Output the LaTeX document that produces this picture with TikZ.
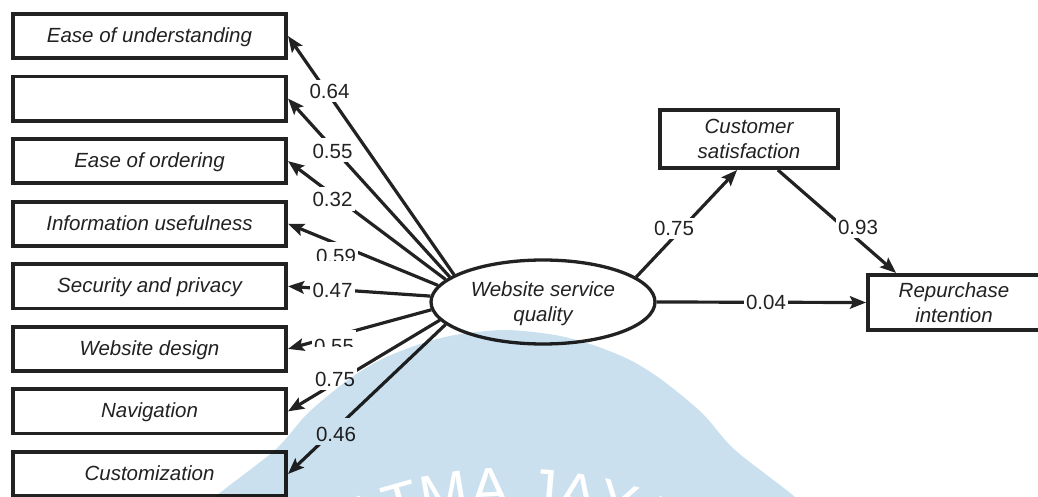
\documentclass[tikz,border=0pt]{standalone}
\usepackage{fontspec}
\setmainfont{Liberation Sans}
\usetikzlibrary{arrows.meta,shapes.geometric,decorations.text}
\definecolor{ink}{HTML}{222222}
\definecolor{wmblue}{HTML}{CBE0EE}
\newcommand\diagfont{\fontsize{20.5}{25}\selectfont}
\newcommand\wmfont{\fontsize{58}{58}\selectfont}

\begin{document}
\begin{tikzpicture}[x=1pt,y=-1pt,
  every node/.style={font=\diagfont, text=ink},
  indicator/.style={draw=ink, line width=3.8pt, fill=white, minimum width=273.2pt,
    minimum height=44.2pt, inner sep=0pt, text height=14.5pt, text depth=1.5pt,
    font=\diagfont\itshape},
  construct/.style={draw=ink, line width=3.8pt, fill=white, inner sep=0pt,
    align=center, font=\diagfont\itshape},
  latent/.style={ellipse, draw=ink, line width=3.3pt, fill=white, minimum width=224pt,
    minimum height=84pt, inner sep=0pt, align=center, text depth=0pt,
    font=\diagfont\itshape},
  link/.style={draw=ink, line width=3.2pt, -{Stealth[length=16pt,width=12.5pt,inset=3pt]}},
  coef/.style={fill=white, inner sep=2.5pt, text height=16.5pt, text depth=1pt, anchor=base},
]
\useasboundingbox (0,0) rectangle (1038,497);

% indicators of website service quality
\node[indicator] (i1) at (149.5,36)    {Ease of understanding};
\node[indicator] (i2) at (149.5,98.6)  {};
\node[indicator] (i3) at (149.5,161.1) {Ease of ordering};
\node[indicator] (i4) at (149.5,223.7) {Information usefulness};
\node[indicator] (i5) at (149.5,286.3) {Security and privacy};
\node[indicator] (i6) at (149.5,348.9) {Website design};
\node[indicator] (i7) at (149.5,411.4) {Navigation};
\node[indicator] (i8) at (149.5,474)   {Customization};

% constructs
\node[latent] (wsq) at (543,302) {Website service\\quality};
\node[construct, minimum width=178.2pt, minimum height=58.2pt] (cs) at (749,139) {Customer\\satisfaction};
\node[construct, minimum width=172.2pt, minimum height=55.2pt] (ri) at (954,302.5) {Repurchase\\intention};

% loadings
\draw[link] (wsq.163) -- (i1.east);
\draw[link] (wsq.165) -- (i2.east);
\draw[link] (wsq.167) -- (i3.east);
\draw[link] (wsq.171) -- (i4.east);
\draw[link] (wsq.177) -- (i5.east);
\draw[link] (wsq.184) -- (i6.east);
\draw[link] (wsq.190) -- (i7.east);
\draw[link] (wsq.193) -- (i8.east);

% structural paths
\draw[link] (wsq.15) -- (cs.249);
\draw[link] (cs.313) -- (ri.153);
\draw[link] (wsq.east) -- (ri.west);

% coefficients
\node[coef] (c1) at (329.5,99) {0.64};
\node[coef, text height=18.5pt] (c2) at (332.5,159) {0.55};
\node[coef, text height=17.5pt] (c3) at (332.5,207) {0.32};
\node[coef, text height=18.5pt] (c4) at (336,263) {0.59};
\node[coef, text height=33.5pt] (c5) at (332.5,297) {0.47};
\node[coef, text height=20.5pt] (c6) at (334,353) {0.55};
\node[coef, text height=36.5pt] (c7) at (335,386) {0.75};
\node[coef, text height=20.5pt] (c8) at (336,441) {0.46};
\node[coef, text height=14.7pt] (c9) at (674,235) {0.75};
\node[coef, text height=14.7pt] (c10) at (858,234) {0.93};
\node[coef, text height=14.7pt] (c11) at (766,309) {0.04};

% institutional watermark
\begin{scope}[blend mode=multiply]
\fill[wmblue] plot[smooth] coordinates {(170,540) (215,497) (275,450) (308,413)
  (348,380) (380,360) (417,345) (455,335) (505,330) (555,335) (593,345)
  (630,360) (662,380) (702,413) (735,450) (795,497) (840,540)} -- cycle;
\end{scope}
\path[decorate, decoration={text along path, text={|\wmfont|ATMA JAYA},
  text align=center, text color=white}]
  (510,885) ++(123:377pt) arc[start angle=123, end angle=57, radius=377pt];
\end{tikzpicture}
\end{document}
